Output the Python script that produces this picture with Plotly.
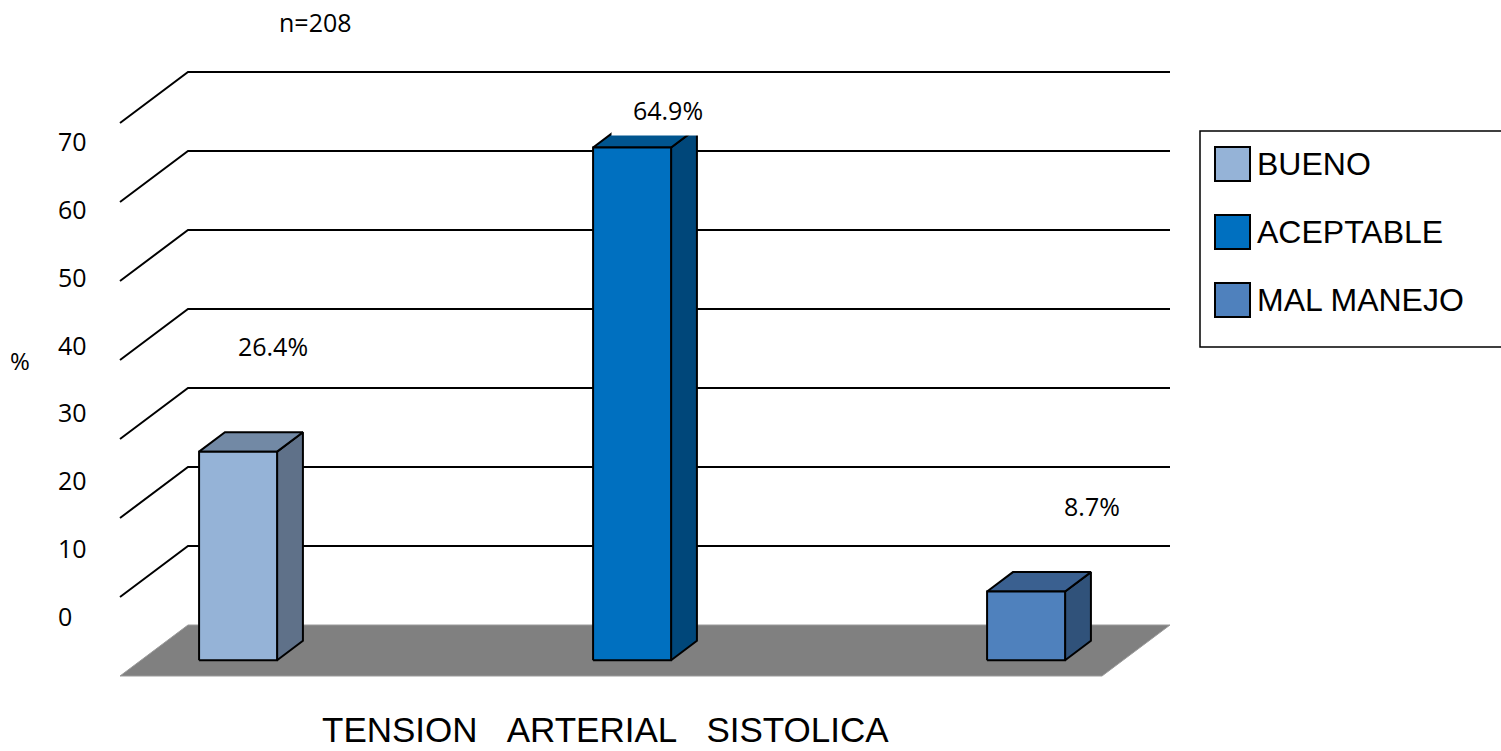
import plotly.graph_objects as go

# ---- data -------------------------------------------------------------
categories = ["BUENO", "ACEPTABLE", "MAL MANEJO"]
values = [26.4, 64.9, 8.7]
tick_values = [0, 10, 20, 30, 40, 50, 60, 70]
sample_note = "n=208"
axis_title = "TENSION\u00a0\u00a0\u00a0ARTERIAL\u00a0\u00a0\u00a0SISTOLICA"
y_label = "%"

# ---- styles -----------------------------------------------------------
front_colors = ["#95B3D7", "#0070C0", "#4F81BD"]
side_colors = ["#5F7189", "#00477A", "#30527A"]
top_colors = ["#7289A5", "#00558F", "#3A6090"]
FLOOR_COLOR = "#808080"
NUM_FONT = "Open Sans"
TXT_FONT = "Liberation Sans"

# ---- layout geometry (figure pixels / value units) --------------------
W, H = 1501, 751
PX_PER_UNIT = 7.9          # screen pixels per percentage point
BASE_PX = 676              # screen row of value 0 on the front plane
DEPTH_X = 68               # horizontal shift from front to back plane
DEPTH_Y = 51 / PX_PER_UNIT # vertical shift (value units) front -> back
FLOOR_X0, FLOOR_X1 = 120, 1102
BAR_START, BAR_STEP, BAR_W = 178, 394, 78
Z_FRONT, Z_BACK = 0.31, 0.69
LABEL_SHIFT = [(95, 15.4), (96, 6.75), (126, 12.8)]  # (x from bar, value above top)

Y_RANGE = [(BASE_PX - H) / PX_PER_UNIT, BASE_PX / PX_PER_UNIT]
# axis used only to space the value labels down the left side
TICK_ZERO_PX, TICK_STEP_PX = 616, 6.786
Y2_RANGE = [(TICK_ZERO_PX - H) / TICK_STEP_PX, TICK_ZERO_PX / TICK_STEP_PX]


def proj(x, v, z):
    """Oblique projection of (x, value, depth) onto the x/y axes."""
    return x + z * DEPTH_X, v + z * DEPTH_Y


def py(p):
    return 1 - p / H


def polygon(points, fill, width=2, color="black"):
    xs = [p[0] for p in points] + [points[0][0]]
    ys = [p[1] for p in points] + [points[0][1]]
    return go.Scatter(x=xs, y=ys, mode="lines", fill="toself", fillcolor=fill,
                      line=dict(color=color, width=width),
                      hoverinfo="skip", showlegend=False)


fig = go.Figure()

# floor
fig.add_trace(polygon([proj(FLOOR_X0, 0, 0), proj(FLOOR_X0, 0, 1),
                       proj(FLOOR_X1, 0, 1), proj(FLOOR_X1, 0, 0)],
                      FLOOR_COLOR, width=1, color="#9A9A9A"))

# gridlines: side wall diagonal + back wall horizontal
gx, gy = [], []
for v in tick_values[1:]:
    for pt in (proj(FLOOR_X0, v, 0), proj(FLOOR_X0, v, 1), proj(FLOOR_X1, v, 1)):
        gx.append(pt[0])
        gy.append(pt[1])
    gx.append(None)
    gy.append(None)
fig.add_trace(go.Scatter(x=gx, y=gy, mode="lines",
                         line=dict(color="black", width=2),
                         hoverinfo="skip", showlegend=False))

# bars
annotations = []
for i, (name, v) in enumerate(zip(categories, values)):
    xl = BAR_START + i * BAR_STEP
    xr = xl + BAR_W
    side = [proj(xr, 0, Z_FRONT), proj(xr, 0, Z_BACK), proj(xr, v, Z_BACK), proj(xr, v, Z_FRONT)]
    top = [proj(xl, v, Z_FRONT), proj(xr, v, Z_FRONT), proj(xr, v, Z_BACK), proj(xl, v, Z_BACK)]
    front = [proj(xl, 0, Z_FRONT), proj(xr, 0, Z_FRONT), proj(xr, v, Z_FRONT), proj(xl, v, Z_FRONT)]
    fig.add_trace(polygon(side, side_colors[i]))
    fig.add_trace(polygon(top, top_colors[i]))
    fig.add_trace(polygon(front, front_colors[i]))

    dx, dv = LABEL_SHIFT[i]
    annotations.append(dict(
        x=xl + dx, y=v + dv, xref="x", yref="y", text=f"{v:.1f}%",
        showarrow=False, font=dict(family=NUM_FONT, size=25, color="black"),
        bgcolor="white", width=112, height=50, borderpad=0,
        xanchor="center", yanchor="middle"))

# value labels down the left side
for t in tick_values:
    annotations.append(dict(x=56, y=t, xref="x", yref="y2", text=str(t),
                            showarrow=False, xanchor="left", yanchor="middle",
                            font=dict(family=NUM_FONT, size=25, color="black")))

annotations += [
    dict(x=20, y=py(360), xref="x", yref="paper", text=y_label, showarrow=False,
         xanchor="center", yanchor="middle",
         font=dict(family=NUM_FONT, size=24, color="black")),
    dict(x=315, y=py(22), xref="x", yref="paper", text=sample_note, showarrow=False,
         xanchor="center", yanchor="middle",
         font=dict(family=NUM_FONT, size=25, color="black")),
    dict(x=605, y=py(729), xref="x", yref="paper", text=axis_title, showarrow=False,
         xanchor="center", yanchor="middle",
         font=dict(family=TXT_FONT, size=35, color="black")),
]

# legend
shapes = [dict(type="rect", xref="x", yref="paper", x0=1200, x1=1512,
               y0=py(347), y1=py(131), line=dict(color="black", width=1.5),
               fillcolor="white", layer="below")]
LEG_ROW0, LEG_STEP, SW = 164, 68, 17
for i, name in enumerate(categories):
    cy = LEG_ROW0 + i * LEG_STEP
    shapes.append(dict(type="rect", xref="x", yref="paper", x0=1215, x1=1250,
                       y0=py(cy + SW), y1=py(cy - SW),
                       fillcolor=front_colors[i], line=dict(color="black", width=2)))
    annotations.append(dict(x=1255, y=py(cy), xref="x", yref="paper", text=name,
                            showarrow=False, xanchor="left", yanchor="middle",
                            font=dict(family=TXT_FONT, size=32, color="black")))

fig.update_layout(
    width=W, height=H,
    margin=dict(l=0, r=0, t=0, b=0),
    paper_bgcolor="white", plot_bgcolor="white",
    xaxis=dict(range=[0, W], visible=False, fixedrange=True),
    yaxis=dict(range=Y_RANGE, visible=False, fixedrange=True),
    yaxis2=dict(range=Y2_RANGE, visible=False, overlaying="y", fixedrange=True),
    annotations=annotations,
    shapes=shapes,
    showlegend=False,
)

fig.write_html("out.html")
